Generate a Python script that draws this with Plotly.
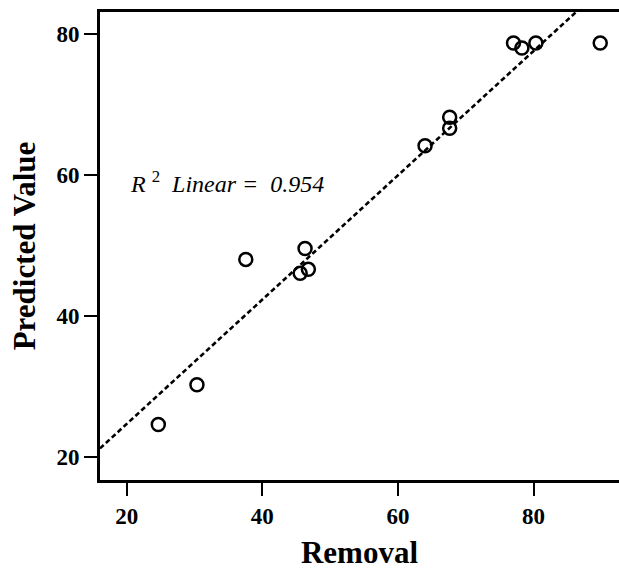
import numpy as np
import plotly.graph_objects as go

# Observed removal vs. model-predicted value
removal = [24.66, 30.36, 37.56, 46.3, 45.58, 46.79, 64.0, 67.63, 67.63, 77.04, 78.28, 80.34, 89.83]
predicted = [24.62, 30.26, 48.05, 49.6, 46.08, 46.64, 64.16, 68.21, 66.66, 78.74, 78.03, 78.74, 78.74]

x_ticks = [20, 40, 60, 80]
y_ticks = [20, 40, 60, 80]
r2_label = "0.954"

x_range = [16.06, 92.6]
y_range = [16.76, 83.14]

# Least-squares fit line across the full x range
slope, intercept = np.polyfit(removal, predicted, 1)
fit_x = np.array(x_range)
fit_y = intercept + slope * fit_x

fig = go.Figure()
fig.add_trace(go.Scatter(
    x=fit_x, y=fit_y, mode="lines",
    line=dict(color="black", width=2.6, dash="5px,3px"),
    hoverinfo="skip", showlegend=False,
))
fig.add_trace(go.Scatter(
    x=removal, y=predicted, mode="markers",
    marker=dict(symbol="circle-open", size=13, color="black",
                line=dict(width=2.5, color="black")),
    showlegend=False,
))

fig.add_annotation(
    x=20.2, y=59.05, xref="x", yref="y", xanchor="left", yanchor="middle",
    text="<i>R</i> <sup>2</sup>&nbsp;&nbsp;<i>Linear =&nbsp;&nbsp;" + r2_label + "</i>",
    showarrow=False,
    font=dict(family="Liberation Serif", size=24, color="black"),
)

axis_font = dict(family="Liberation Serif", size=23, color="black")
title_font = dict(family="Liberation Serif", size=31, color="black")

fig.update_layout(
    width=619, height=570,
    margin=dict(l=100, r=0, t=12, b=87),
    paper_bgcolor="white", plot_bgcolor="white",
    xaxis=dict(
        range=x_range, tickvals=x_ticks, ticktext=[f"<b>{v}</b>" for v in x_ticks],
        showgrid=False, zeroline=False,
        showline=True, linecolor="black", linewidth=3, mirror=True,
        ticks="outside", ticklen=13, tickwidth=2, tickcolor="black",
        tickfont=axis_font,
        title=dict(text="<b>Removal</b>", font=title_font, standoff=20),
    ),
    yaxis=dict(
        range=y_range, tickvals=y_ticks, ticktext=[f"<b>{v}</b>" for v in y_ticks],
        showgrid=False, zeroline=False,
        showline=True, linecolor="black", linewidth=3,
        ticks="outside", ticklen=13, tickwidth=2, tickcolor="black",
        tickfont=axis_font,
        title=dict(text="<b>Predicted Value</b>", font=title_font, standoff=12),
    ),
)

fig.write_html("out.html")
